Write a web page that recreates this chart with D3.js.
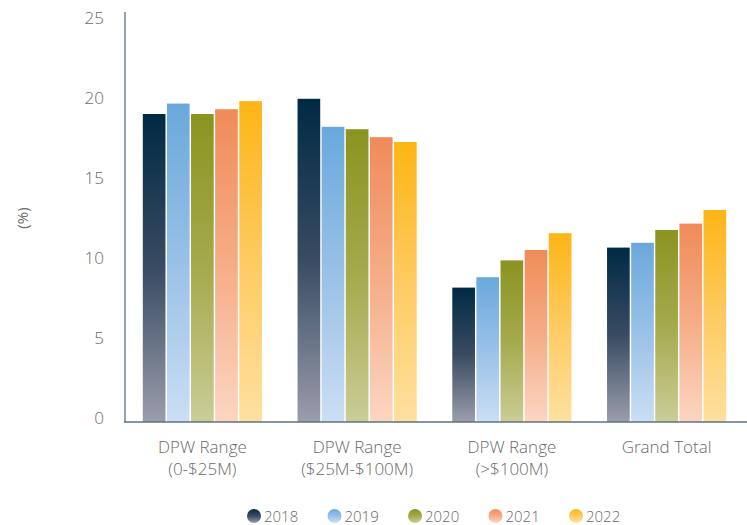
<!DOCTYPE html>
<html><head><meta charset="utf-8">
<script src="https://cdn.jsdelivr.net/npm/d3@7"></script>
<style>body{margin:0;background:#fff}svg{display:block}text{font-family:"Open Sans",sans-serif;fill:#6a6a6a;font-weight:300}</style>
</head><body><svg id="c" width="747" height="525"></svg>
<script>
const categories = [["DPW Range","(0-$25M)"],["DPW Range","($25M-$100M)"],["DPW Range","(>$100M)"],["Grand Total"]];
const years = ["2018","2019","2020","2021","2022"];
const values = {
  "2018":[19.25,20.2,8.4,10.9],
  "2019":[19.9,18.45,9.05,11.2],
  "2020":[19.25,18.3,10.1,12.0],
  "2021":[19.55,17.8,10.75,12.4],
  "2022":[20.05,17.5,11.8,13.25]
};
const yTicks = [0,5,10,15,20,25];
const topColors = ["#002a44","#6aa8dc","#8a9420","#f08b5a","#fdb515"];
const midColors = ["#394b62","#99c1e7","#a5aa4d","#f5ad88","#fecb62"];
const bottomColors = ["#9b9dac","#cbdef4","#cacd96","#fcd6c2","#ffe0a0"];

const svg = d3.select("#c");
const defs = svg.append("defs");
years.forEach((y,i)=>{
  const g = defs.append("linearGradient").attr("id","g"+i).attr("x1",0).attr("y1",0).attr("x2",0).attr("y2",1);
  g.append("stop").attr("offset","0%").attr("stop-color",topColors[i]);
  g.append("stop").attr("offset","50%").attr("stop-color",midColors[i]);
  g.append("stop").attr("offset","100%").attr("stop-color",bottomColors[i]);
});
const x0 = d3.scaleBand().domain(d3.range(categories.length)).range([125,744]).paddingInner(0.23).paddingOuter(0.115);
const x1 = d3.scaleBand().domain(years).range([0,x0.bandwidth()]).paddingInner(0.06);
const y = d3.scaleLinear().domain([0,25]).range([422,22]);

// bars
const grp = svg.append("g").selectAll("g").data(categories).join("g").attr("transform",(d,i)=>`translate(${x0(i)},0)`);
grp.selectAll("rect").data((d,i)=>years.map((yr,j)=>({yr,j,v:values[yr][i]}))).join("rect")
  .attr("x",d=>x1(d.yr)).attr("width",x1.bandwidth())
  .attr("y",d=>y(d.v)).attr("height",d=>y(0)-y(d.v))
  .attr("fill",d=>`url(#g${d.j})`);

// y axis
const ya = svg.append("g").attr("transform","translate(125,0)")
  .call(d3.axisLeft(y).tickValues(yTicks).tickSize(0).tickPadding(21));
ya.select(".domain").remove();
ya.selectAll("text").attr("font-size",17).attr("dy","0").attr("dominant-baseline","central").attr("transform","translate(0,-5)").style("fill","#6a6a6a").attr("font-family","\"Open Sans\",sans-serif");
svg.append("line").attr("x1",125).attr("x2",125).attr("y1",12).attr("y2",422).attr("stroke","#5c7282").attr("stroke-width",1.3);
svg.append("line").attr("x1",124).attr("x2",747).attr("y1",422).attr("y2",422).attr("stroke","#5c7282").attr("stroke-width",1.5);

// x labels
categories.forEach((lines,i)=>{
  const cx = x0(i)+x0.bandwidth()/2;
  const t = svg.append("text").attr("text-anchor","middle").attr("font-size",17).attr("x",cx).attr("y",453);
  lines.forEach((l,k)=>t.append("tspan").attr("x",cx).attr("dy",k?22:0).text(l));
});

// y title
svg.append("text").attr("transform","translate(22,218) rotate(-90)").attr("text-anchor","middle").attr("dominant-baseline","central").attr("font-size",15).style("font-weight",400).text("(%)");

// legend
const lg = svg.append("g");
years.forEach((yr,i)=>{
  const lx = 254 + i*80.5;
  lg.append("circle").attr("cx",lx).attr("cy",516).attr("r",7).attr("fill",`url(#g${i})`);
  lg.append("text").attr("x",lx+10).attr("y",516).attr("dominant-baseline","central").attr("font-size",15).text(yr);
});
</script></body></html>
